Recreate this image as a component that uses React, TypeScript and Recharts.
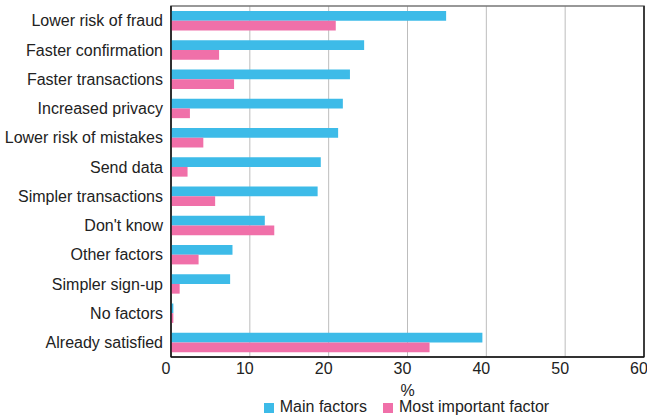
import React from 'react';
import { BarChart, Bar, XAxis, YAxis, CartesianGrid, Legend, ReferenceArea, ReferenceLine } from 'recharts';

const categories = [
  'Lower risk of fraud',
  'Faster confirmation',
  'Faster transactions',
  'Increased privacy',
  'Lower risk of mistakes',
  'Send data',
  'Simpler transactions',
  "Don't know",
  'Other factors',
  'Simpler sign-up',
  'No factors',
  'Already satisfied',
];
const mainFactors = [34.9, 24.5, 22.7, 21.8, 21.2, 19.0, 18.6, 11.9, 7.8, 7.5, 0.3, 39.5];
const mostImportant = [20.9, 6.1, 8.0, 2.4, 4.1, 2.1, 5.6, 13.1, 3.5, 1.1, 0.3, 32.8];
const xTicks = [0, 10, 20, 30, 40, 50, 60];

const data = categories.map((name, i) => ({
  name,
  main: mainFactors[i],
  most: mostImportant[i],
}));

const FONT = '"Liberation Sans", Arial, sans-serif';
const BLUE = '#3dbbe8';
const PINK = '#f070a9';

export default function App() {
  return (
    <div style={{ position: 'absolute', left: 0, top: 0, width: 647, height: 417, background: '#fff' }}>
      <BarChart
        width={647}
        height={417}
        data={data}
        layout="vertical"
        margin={{ top: 6, right: 3, left: 0, bottom: 1 }}
        barGap={0}
        barSize={9.7}
      >
        <CartesianGrid horizontal={false} stroke="#bdbdbd" strokeWidth={1} />
        <ReferenceArea x1={0} x2={60} fill="none" stroke="#777" strokeWidth={1.5} ifOverflow="visible" />
        <ReferenceLine x={60} stroke="#222" strokeWidth={1.5} ifOverflow="visible" />
        <XAxis
          type="number"
          domain={[0, 60]}
          ticks={xTicks}
          interval={0}
          tickLine={false}
          tickSize={0}
          tickMargin={6}
          axisLine={{ stroke: '#111', strokeWidth: 1.5 }}
          tick={{ fill: '#222', fontSize: 16, fontFamily: FONT, dx: -5 }}
          height={41}
          label={{ value: '%', position: 'insideBottom', offset: 2, fill: '#222', fontSize: 16, fontFamily: FONT }}
        />
        <YAxis
          type="category"
          dataKey="name"
          width={171}
          interval={0}
          tickLine={false}
          tickSize={0}
          tickMargin={8}
          axisLine={{ stroke: '#111', strokeWidth: 1.5 }}
          tick={{ fill: '#222', fontSize: 16, fontFamily: FONT }}
        />
        <Legend
          verticalAlign="bottom"
          iconType="square"
          iconSize={10}
          wrapperStyle={{ left: 177, width: 475, fontFamily: FONT, fontSize: 16, lineHeight: '18px' }}
          formatter={(value) => (
            <span style={{ color: '#222', paddingLeft: 2, paddingRight: 6 }}>{value}</span>
          )}
        />
        <Bar dataKey="main" name="Main factors" fill={BLUE} isAnimationActive={false} />
        <Bar dataKey="most" name="Most important factor" fill={PINK} isAnimationActive={false} />
      </BarChart>
    </div>
  );
}
